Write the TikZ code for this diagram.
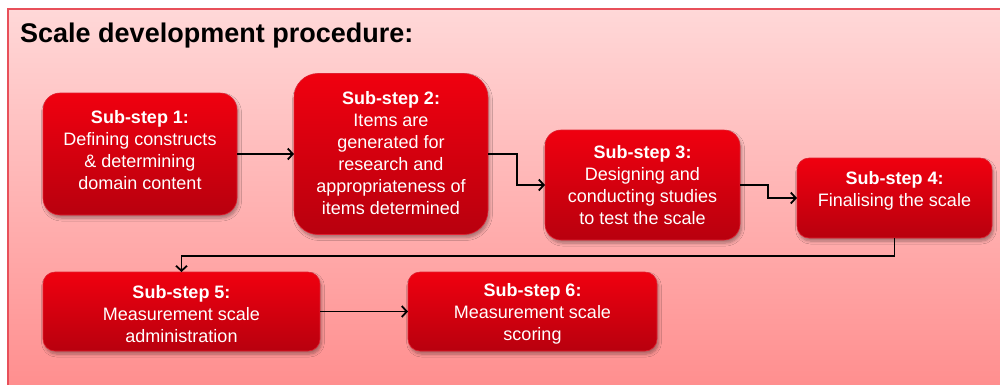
\documentclass[tikz,border=0pt]{standalone}
\usepackage{fontspec}
\setmainfont{Liberation Sans}
\usetikzlibrary{arrows.meta,shadows.blur}

\definecolor{panelTop}{HTML}{FFD8D8}
\definecolor{panelBottom}{HTML}{FF8E8E}
\definecolor{panelEdge}{HTML}{E8505A}
\definecolor{boxTop}{HTML}{F0000F}
\definecolor{boxBottom}{HTML}{B8000E}
\definecolor{boxEdge}{HTML}{E02030}

\tikzset{
  stepbox/.style={
    draw=boxEdge, line width=0.6pt,
    top color=boxTop, bottom color=boxBottom,
    blur shadow={shadow xshift=1.5pt, shadow yshift=-3pt,
                 shadow blur steps=6, shadow blur radius=3pt, shadow opacity=35},
    inner sep=0pt, outer sep=0pt
  },
  steptext/.style={
    text=white, align=center, inner sep=0pt,
    font=\fontsize{18}{22}\selectfont
  },
  conn/.style={
    draw=black, line width=1.8pt,
    -{Straight Barb[length=5pt,width=11pt,line width=1.8pt]}
  },
  title/.style={anchor=base west, inner sep=0pt,
    font=\fontsize{27}{30}\selectfont\bfseries}
}

\begin{document}
\begin{tikzpicture}[x=1pt,y=-1pt]
  \useasboundingbox (0,0) rectangle (1000,384);

  % background panel
  \fill[white] (0,0) rectangle (1000,384);
  \shade[top color=panelTop, bottom color=panelBottom]
    (8,9) rectangle (1004,388);
  \draw[panelEdge, line width=1.6pt] (8,388) -- (8,9) -- (1004,9);

  \node[title] (title) at (20,42) {Scale development procedure:};

  % step boxes
  \node[stepbox, minimum width=194pt, minimum height=122pt, rounded corners=17pt]
    (b1) at (140,154) {};
  \node[stepbox, minimum width=194pt, minimum height=161pt, rounded corners=24pt]
    (b2) at (391,154) {};
  \node[stepbox, minimum width=195pt, minimum height=110pt, rounded corners=16pt]
    (b3) at (642.5,185) {};
  \node[stepbox, minimum width=195pt, minimum height=80pt, rounded corners=12pt]
    (b4) at (894.5,198) {};
  \node[stepbox, minimum width=277pt, minimum height=79pt, rounded corners=12pt]
    (b5) at (181.5,311.5) {};
  \node[stepbox, minimum width=249pt, minimum height=79pt, rounded corners=12pt]
    (b6) at (532.5,311.5) {};

  % step texts
  \node[steptext] (t1) at (140,150)
    {\textbf{Sub-step 1:}\\Defining constructs\\\&~determining\\domain content};
  \node[steptext] (t2) at (391,153)
    {\textbf{Sub-step 2:}\\Items are\\generated for\\research and\\appropriateness of\\items determined};
  \node[steptext] (t3) at (642.5,185)
    {\textbf{Sub-step 3:}\\Designing and\\conducting studies\\to test the scale};
  \node[steptext] (t4) at (894.5,191)
    {\textbf{Sub-step 4:}\\Finalising the scale};
  \node[steptext] (t5) at (181.5,314)
    {\textbf{Sub-step 5:}\\Measurement scale\\administration};
  \node[steptext] (t6) at (532.5,314)
    {\textbf{Sub-step 6:}\\Measurement scale\\scoring};

  % connectors
  \draw[conn] (b1.east) -- (b2.west);
  \draw[conn] (b2.east) -- ++(29,0) |- (b3.west);
  \draw[conn] (b3.east) -- ++(28,0) |- (b4.west);
  \draw[conn] (b4.south) -- ++(0,18) -| (b5.north);
  \draw[conn] (b5.east) -- (b6.west);
\end{tikzpicture}
\end{document}
